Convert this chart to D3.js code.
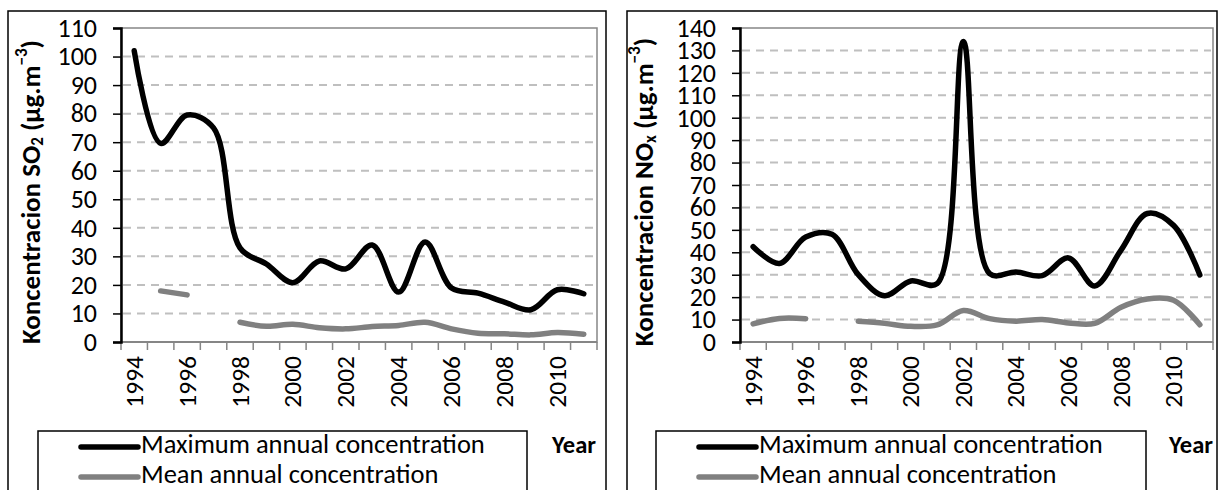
<!DOCTYPE html>
<html>
<head>
<meta charset="utf-8">
<script src="https://cdn.jsdelivr.net/npm/d3@7"></script>
<style>
  body { margin: 0; background: #fff; }
  svg { display: block; font-family: Calibri, Carlito, Lato, sans-serif; }
</style>
</head>
<body>
<svg id="chart" width="1218" height="490"></svg>
<script>
// categories
const years = ['1994','1995','1996','1997','1998','1999','2000','2001','2002',
  '2003','2004','2005','2006','2007','2008','2009','2010','2011'];
const yearLabels = ['1994','1996','1998','2000','2002','2004','2006','2008','2010'];

// SO2 (left panel)
const so2Max = [102, 69.6, 79.5, 75, 33, 27.3, 20.8, 28.4, 25.6, 34, 17.5, 35, 18.9, 17.1, 14, 11.3, 18.3, 16.9];
const so2Mean = [null, 17.9, 16.5, null, 6.9, 5.5, 6.2, 5, 4.6, 5.4, 5.8, 6.9, 4.6, 3.1, 2.9, 2.5, 3.3, 2.7];
const so2Ticks = [0,10,20,30,40,50,60,70,80,90,100,110];

// NOx (right panel)
const noxMax = [42.5, 35, 46.8, 48, 30, 20.6, 27.2, 26, 134, 30.5, 31.2, 29.6, 37.5, 25, 41, 57.3, 52, 29.9];
const noxMean = [8.1, 10.5, 10.4, null, 9.2, 8.3, 7, 7.6, 14, 10.4, 9.3, 10, 8.5, 8.3, 15.5, 19.2, 18.6, 7.7];
const noxTicks = [0,10,20,30,40,50,60,70,80,90,100,110,120,130,140];

const seriesNames = ['Maximum annual concentration', 'Mean annual concentration'];
const seriesColors = ['#000000', '#808080'];

const svg = d3.select('#chart');

const drawPanel = (props) => {
  const { box, plot, yTicks, maxSeries, meanSeries, gas, gasSub, titleX, legend, yearRight } = props;

  const g = svg.append('g');

  // outer chart border
  g.append('rect')
    .attr('x', box.x).attr('y', box.y)
    .attr('width', box.w).attr('height', box.h)
    .attr('fill', '#fff')
    .attr('stroke', '#000')
    .attr('stroke-width', 1.5);

  const xScale = d3.scaleBand()
    .domain(years)
    .range([plot.x, plot.x + plot.w]);

  const yScale = d3.scaleLinear()
    .domain([0, d3.max(yTicks)])
    .range([plot.y + plot.h, plot.y]);

  // plot area border (top/right in gray)
  g.append('rect')
    .attr('x', plot.x).attr('y', plot.y)
    .attr('width', plot.w).attr('height', plot.h)
    .attr('fill', 'none')
    .attr('stroke', '#868686')
    .attr('stroke-width', 1.5);

  // dashed gridlines
  g.append('g').selectAll('line')
    .data(yTicks.filter(d => d > 0 && d < d3.max(yTicks)))
    .join('line')
      .attr('x1', plot.x + 2).attr('x2', plot.x + plot.w - 2)
      .attr('y1', d => yScale(d)).attr('y2', d => yScale(d))
      .attr('stroke', '#bfbfbf')
      .attr('stroke-width', 2)
      .attr('stroke-dasharray', '8,6');

  // x axis: ticks between categories
  const bounds = years.map(y => xScale(y)).concat([plot.x + plot.w]);
  const xAxisG = g.append('g');
  xAxisG.append('line')
    .attr('x1', plot.x).attr('x2', plot.x + plot.w)
    .attr('y1', yScale(0)).attr('y2', yScale(0))
    .attr('stroke', '#868686').attr('stroke-width', 2);
  xAxisG.selectAll('.tick')
    .data(bounds)
    .join('line')
      .attr('class', 'tick')
      .attr('x1', d => d).attr('x2', d => d)
      .attr('y1', yScale(0)).attr('y2', yScale(0) + 8)
      .attr('stroke', '#868686').attr('stroke-width', 1.5);
  xAxisG.selectAll('text')
    .data(yearLabels)
    .join('text')
      .attr('transform', d => `translate(${xScale(d) + xScale.bandwidth() / 2 + 8.5}, ${yScale(0) + 14}) rotate(-90)`)
      .attr('text-anchor', 'end')
      .attr('font-size', 25.5)
      .attr('fill', '#000')
      .text(d => d);

  // y axis
  const yAxis = d3.axisLeft(yScale)
    .tickValues(yTicks)
    .tickSize(8)
    .tickPadding(16)
    .tickFormat(d3.format('d'));
  const yAxisG = g.append('g')
    .attr('transform', `translate(${plot.x}, 0)`)
    .call(yAxis);
  yAxisG.select('.domain')
    .attr('stroke', '#000').attr('stroke-width', 2.5);
  yAxisG.selectAll('line')
    .attr('stroke', '#000').attr('stroke-width', 1.5);
  yAxisG.selectAll('text')
    .attr('font-size', 26)
    .attr('font-family', 'Calibri, Carlito, Lato, sans-serif')
    .attr('fill', '#000');

  // y axis title
  const title = g.append('text')
    .attr('transform', `translate(${titleX}, ${plot.y + plot.h / 2 + 7}) rotate(-90)`)
    .attr('text-anchor', 'middle')
    .attr('dominant-baseline', 'middle')
    .attr('font-size', 27)
    .attr('font-weight', 'bold')
    .attr('fill', '#000');
  title.append('tspan').text(`Koncentracion ${gas}`);
  title.append('tspan').attr('dy', 6).attr('font-size', 17).text(gasSub);
  title.append('tspan').attr('dy', -6).text(' (µg.m');
  title.append('tspan').attr('dy', -10).attr('font-size', 17).text('−3');
  title.append('tspan').attr('dy', 10).text(')');

  // lines (Excel-like smoothing)
  const line = d3.line()
    .defined(d => d.v != null)
    .x(d => xScale(d.year) + xScale.bandwidth() / 2)
    .y(d => yScale(d.v))
    .curve(d3.curveCatmullRom.alpha(0.5));

  [maxSeries, meanSeries].forEach((vals, i) => {
    g.append('path')
      .datum(years.map((year, j) => ({ year, v: vals[j] })))
      .attr('fill', 'none')
      .attr('stroke', seriesColors[i])
      .attr('stroke-width', 5.5)
      .attr('stroke-linecap', 'round')
      .attr('stroke-linejoin', 'round')
      .attr('d', line);
  });

  // legend
  g.append('rect')
    .attr('x', legend.x).attr('y', legend.y)
    .attr('width', legend.w).attr('height', 80)
    .attr('fill', '#fff')
    .attr('stroke', '#000')
    .attr('stroke-width', 1.5);
  const items = g.append('g').selectAll('g')
    .data(seriesNames)
    .join('g')
      .attr('transform', (d, i) => `translate(${legend.x + 43}, ${legend.y + 16 + i * 30})`);
  items.append('line')
    .attr('x1', 0).attr('x2', 57)
    .attr('stroke', (d, i) => seriesColors[i])
    .attr('stroke-width', 5.5)
    .attr('stroke-linecap', 'round');
  items.append('text')
    .attr('x', 60)
    .attr('dominant-baseline', 'middle')
    .attr('font-size', 26.5)
    .attr('fill', '#000')
    .text(d => d);

  // x axis title
  g.append('text')
    .attr('x', yearRight)
    .attr('y', legend.y + 16)
    .attr('text-anchor', 'end')
    .attr('dominant-baseline', 'middle')
    .attr('font-size', 24.5)
    .attr('font-weight', 'bold')
    .attr('fill', '#000')
    .text('Year');
};

drawPanel({
  box: { x: 8, y: 11, w: 598, h: 500 },
  plot: { x: 121, y: 28, w: 476, h: 314 },
  yTicks: so2Ticks,
  maxSeries: so2Max,
  meanSeries: so2Mean,
  gas: 'SO', gasSub: '2',
  titleX: 33,
  legend: { x: 38, y: 431, w: 489 },
  yearRight: 596
});

drawPanel({
  box: { x: 627, y: 11, w: 590, h: 500 },
  plot: { x: 740, y: 28, w: 473, h: 314 },
  yTicks: noxTicks,
  maxSeries: noxMax,
  meanSeries: noxMean,
  gas: 'NO', gasSub: 'x',
  titleX: 646,
  legend: { x: 656, y: 431, w: 490 },
  yearRight: 1213
});
</script>
</body>
</html>
